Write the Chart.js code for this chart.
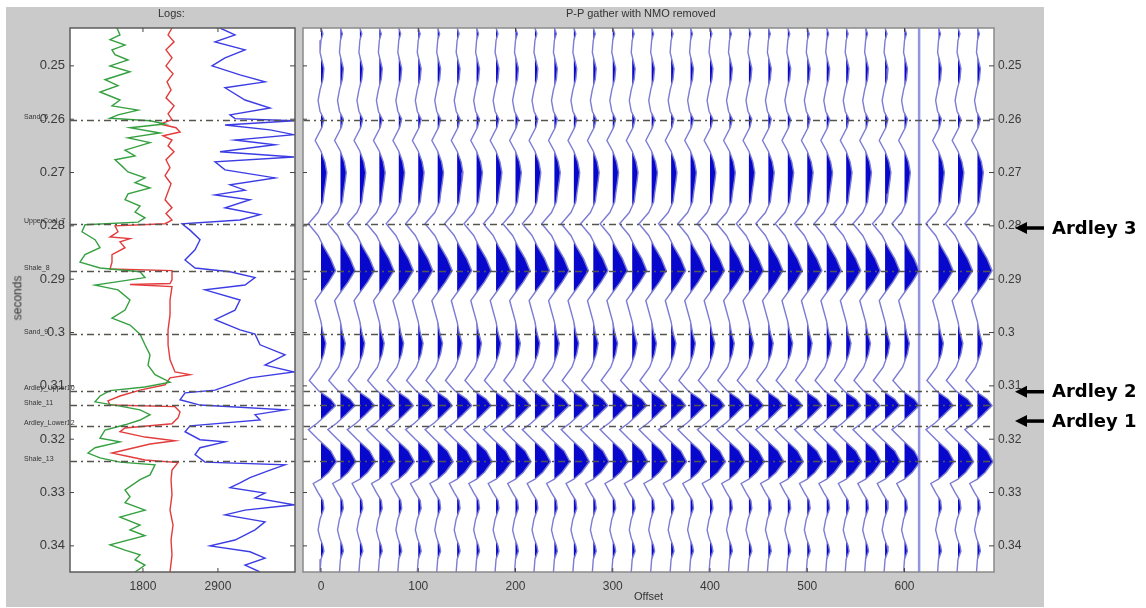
<!DOCTYPE html>
<html>
<head>
<meta charset="utf-8">
<script src="https://cdn.jsdelivr.net/npm/chart.js@4.4.0/dist/chart.umd.min.js"></script>
<style>
  html, body { margin: 0; padding: 0; background: #fff; }
  body { width: 1146px; height: 608px; position: relative; overflow: hidden; font-family: "Liberation Sans", Arial, sans-serif; }
  #figure { position: absolute; left: 6px; top: 7px; width: 1038px; height: 600px; background: #cacaca; }
  .holder { position: absolute; top: 0; }
  .lbl { position: absolute; font-size: 12px; color: #333; white-space: nowrap; }
</style>
</head>
<body>
<div id="figure"></div>
<div class="holder" style="left:0;width:300px;height:608px"><canvas id="logs" width="300" height="608"></canvas></div>
<div class="holder" style="left:300px;width:846px;height:608px"><canvas id="gather" width="846" height="608"></canvas></div>
<div class="lbl" style="left:158px;top:7px;font-size:11px">Logs:</div>
<div class="lbl" style="left:566px;top:7px;font-size:11px">P-P gather with NMO removed</div>
<div class="lbl" style="left:634px;top:590px;font-size:11px">Offset</div>
<div class="lbl" style="left:-5px;top:291px;transform:rotate(-90deg)">seconds</div>
<script>
const FONT = '"Liberation Sans", Arial, sans-serif';

// time window (seconds) and tick labels
const tMin = 0.2429, tMax = 0.3449;
const timeTicks = [0.25, 0.26, 0.27, 0.28, 0.29, 0.3, 0.31, 0.32, 0.33, 0.34];
const logTicks = [1800, 2900];
const offsetTicks = [0, 100, 200, 300, 400, 500, 600];

// horizon picks
const horizonTimes = [0.2601, 0.2796, 0.2884, 0.3003, 0.3109, 0.3136, 0.3175, 0.3241];
const horizonNames = ['Sand_6', 'UpperCoal_7', 'Shale_8', 'Sand_9', 'Ardley_Upper10', 'Shale_11', 'Ardley_Lower12', 'Shale_13'];

// Ardley callouts on the right
const ardleyNames = ['Ardley 3', 'Ardley 2', 'Ardley 1'];
const ardleyTimes = [0.2804, 0.3111, 0.3166];

// well logs: [time, value]
const greenLog = [
  [.2429,1419],[.2442,1463],[.2451,1317],[.2461,1537],[.2470,1346],[.2479,1390],[.2489,1581],[.2500,1317],
  [.2511,1610],[.2526,1243],[.2537,1434],[.2549,1170],[.2564,1463],[.2575,1346],[.2583,1728],[.2592,1434],
  [.2598,1317],[.2603,1904],[.2609,2124],[.2616,1610],[.2626,2050],[.2635,1581],[.2644,1904],[.2658,1537],
  [.2669,1684],[.2676,1390],[.2688,1493],[.2699,1581],[.2710,1830],[.2719,1684],[.2729,1904],[.2740,1581],
  [.2751,1537],[.2763,1757],[.2774,1684],[.2785,1830],[.2793,1728],[.2798,950],[.2811,906],[.2826,1097],
  [.2841,1170],[.2854,950],[.2868,877],[.2879,1170],[.2886,1757],[.2897,1830],[.2911,1097],[.2920,1434],
  [.2939,1610],[.2958,1537],[.2973,1346],[.2986,1610],[.3003,1757],[.3023,1830],[.3042,1904],[.3061,1874],
  [.3079,1977],[.3093,2197],[.3102,1830],[.3109,1317],[.3119,1170],[.3130,1097],[.3138,1463],[.3145,1757],
  [.3154,1904],[.3164,1757],[.3173,1537],[.3183,1243],[.3198,1170],[.3205,1463],[.3216,1097],[.3226,994],
  [.3235,1170],[.3243,1463],[.3248,1977],[.3267,1904],[.3276,1757],[.3295,1537],[.3308,1610],[.3319,1537],
  [.3333,1830],[.3346,1463],[.3361,1757],[.3370,1610],[.3381,1830],[.3398,1317],[.3408,1537],[.3417,1757],
  [.3426,1684],[.3436,1830],[.3449,1684]
];
const redLog = [
  [.2429,2226],[.2442,2168],[.2455,2256],[.2470,2138],[.2485,2226],[.2500,2138],[.2515,2241],[.2530,2153],
  [.2545,2212],[.2560,2138],[.2575,2256],[.2590,2168],[.2601,2226],[.2609,2050],[.2616,2285],[.2624,2344],
  [.2631,2094],[.2639,2226],[.2650,2168],[.2661,2256],[.2676,2138],[.2691,2197],[.2706,2124],[.2721,2212],
  [.2736,2168],[.2751,2124],[.2766,2226],[.2777,2138],[.2789,2226],[.2796,2124],[.2800,1390],[.2811,1434],
  [.2821,1317],[.2824,1610],[.2830,1463],[.2841,1537],[.2854,1346],[.2868,1346],[.2881,1317],[.2884,2226],
  [.2901,2226],[.2908,2197],[.2910,1610],[.2914,2226],[.2939,2197],[.2967,2197],[.2995,2168],[.3023,2168],
  [.3051,2197],[.3074,2270],[.3079,2490],[.3085,2197],[.3098,2124],[.3108,1757],[.3119,1463],[.3128,1287],
  [.3136,1317],[.3139,2270],[.3149,2344],[.3160,2314],[.3171,2226],[.3179,1537],[.3186,1463],[.3196,1830],
  [.3203,2270],[.3209,1904],[.3218,1610],[.3226,1346],[.3231,1537],[.3239,1830],[.3244,2314],[.3258,2226],
  [.3276,2212],[.3304,2226],[.3333,2197],[.3361,2241],[.3389,2212],[.3417,2226],[.3449,2197]
];
const blueLog = [
  [.2429,2930],[.2442,3150],[.2455,2857],[.2470,3297],[.2485,3004],[.2500,2813],[.2517,3224],[.2530,3590],
  [.2541,3004],[.2564,3297],[.2579,3664],[.2592,3077],[.2599,3150],[.2603,4016],[.2611,3004],[.2620,3664],
  [.2629,4016],[.2639,3150],[.2648,3737],[.2661,2930],[.2671,4016],[.2680,2857],[.2695,3004],[.2710,3737],
  [.2723,3077],[.2733,3297],[.2742,2857],[.2751,3370],[.2766,3004],[.2779,3517],[.2789,3224],[.2796,2373],
  [.2808,2490],[.2826,2637],[.2845,2564],[.2864,2417],[.2879,2564],[.2886,3077],[.2897,3444],[.2911,3297],
  [.2920,2710],[.2939,3224],[.2958,3150],[.2976,2857],[.2995,3224],[.3003,3444],[.3023,3517],[.3042,3884],
  [.3061,3590],[.3074,4016],[.3085,3370],[.3098,3077],[.3108,2857],[.3113,2417],[.3126,2344],[.3136,2637],
  [.3145,3884],[.3154,3444],[.3164,3517],[.3175,2490],[.3186,2417],[.3201,2637],[.3205,3004],[.3216,2637],
  [.3229,2564],[.3243,2710],[.3248,3884],[.3258,3664],[.3272,3370],[.3282,3224],[.3291,3077],[.3301,3590],
  [.3310,3444],[.3323,4016],[.3333,3297],[.3342,3004],[.3355,3590],[.3370,3444],[.3389,3150],[.3400,2784],
  [.3411,3370],[.3423,3590],[.3436,3297],[.3449,3517]
];

// gather: trace offsets, separator and the NMO-corrected wavelet (amplitude in offset units)
const traceOffsets = [0,20,40,60,80,100,120,140,160,180,200,220,240,260,280,300,320,340,360,380,400,
                      420,440,460,480,500,520,540,560,580,600,635,655,675];
const separatorOffset = 615;
const traceTimes = [.2429,.2440,.2452,.2475,.2490,.2505,.2525,.2545,.2565,.2585,.2600,.2615,.2640,.2660,
  .2680,.2700,.2715,.2740,.2755,.2775,.2796,.2818,.2840,.2862,.2884,.2905,.2925,.2940,.2960,.2980,.3000,
  .3020,.3040,.3065,.3090,.3110,.3125,.3137,.3155,.3170,.3182,.3200,.3222,.3242,.3262,.3275,.3283,.3300,
  .3315,.3330,.3350,.3370,.3385,.3400,.3410,.3425,.3449];
const traceAmps = [0,2,0,-1,1,3,2,-1,-3,-1,3,1,-6,0,
  4,6,5,3,2,-3,-13,-3,3,10,15,8,0,-6,-3,0,2,
  5,3,-2,-12,-2,10,15,5,-4,-13,-3,10,16,8,0,-8,-3,
  2,3,-1,-3,-1,2,3,0,-1];

const tickFont = { family: FONT, size: 12 };

const whitePanel = {
  id: 'whitePanel',
  beforeDraw(chart) {
    const { ctx, chartArea: a } = chart;
    ctx.save();
    ctx.fillStyle = '#fff';
    ctx.fillRect(a.left, a.top, a.right - a.left, a.bottom - a.top);
    ctx.restore();
  },
  afterDraw(chart) {
    const { ctx, chartArea: a, scales } = chart;
    ctx.save();
    ctx.strokeStyle = chart.canvas.id === 'logs' ? '#5c5c5c' : '#8a8a8a';
    ctx.lineWidth = 1.5;
    ctx.strokeRect(a.left, a.top, a.right - a.left, a.bottom - a.top);
    ctx.strokeStyle = '#444';
    ctx.lineWidth = 1;
    ctx.beginPath();
    scales.y.ticks.forEach(t => {
      const y = scales.y.getPixelForValue(t.value);
      ctx.moveTo(a.left, y); ctx.lineTo(a.left + 4, y);
      ctx.moveTo(a.right, y); ctx.lineTo(a.right - 5, y);
    });
    scales.x.ticks.forEach(t => {
      const x = scales.x.getPixelForValue(t.value);
      ctx.moveTo(x, a.bottom); ctx.lineTo(x, a.bottom - 4);
      ctx.moveTo(x, a.top); ctx.lineTo(x, a.top + 4);
    });
    ctx.stroke();
    ctx.restore();
  }
};

const horizonLines = {
  id: 'horizonLines',
  afterDatasetsDraw(chart) {
    const { ctx, chartArea: a, scales } = chart;
    ctx.save();
    ctx.strokeStyle = '#55554d';
    ctx.lineWidth = 1.3;
    ctx.setLineDash([7, 4, 2, 4]);
    horizonTimes.forEach(t => {
      const y = Math.round(scales.y.getPixelForValue(t)) + 0.5;
      ctx.beginPath();
      ctx.moveTo(a.left, y);
      ctx.lineTo(a.right, y);
      ctx.stroke();
    });
    ctx.setLineDash([]);
    if (chart.canvas.id === 'logs') {
      ctx.fillStyle = '#333';
      ctx.font = '7px ' + FONT;
      ctx.textBaseline = 'bottom';
      horizonTimes.forEach((t, i) => {
        ctx.fillText(horizonNames[i], 24, scales.y.getPixelForValue(t) + 1);
      });
    }
    ctx.restore();
  }
};

const wiggleFill = {
  id: 'wiggleFill',
  beforeDatasetsDraw(chart) {
    const { ctx, chartArea: a, scales } = chart;
    ctx.save();
    ctx.beginPath();
    ctx.rect(a.left, a.top, a.right - a.left, a.bottom - a.top);
    ctx.clip();
    ctx.fillStyle = '#0808cc';
    chart.data.datasets.forEach((ds, i) => {
      if (ds.baseline === undefined) return;
      const pts = chart.getDatasetMeta(i).data;
      const bx = scales.x.getPixelForValue(ds.baseline);
      ctx.beginPath();
      let inside = false;
      pts.forEach((p, j) => {
        const pos = p.x > bx + 0.01;
        if (j > 0) {
          const q = pts[j - 1];
          const qpos = q.x > bx + 0.01;
          if (pos !== qpos) {
            const f = (bx - q.x) / (p.x - q.x);
            const cy = q.y + f * (p.y - q.y);
            if (pos) { ctx.moveTo(bx, cy); inside = true; }
            else { ctx.lineTo(bx, cy); ctx.closePath(); inside = false; }
          }
        } else if (pos) { ctx.moveTo(bx, p.y); inside = true; }
        if (pos) ctx.lineTo(p.x, p.y);
      });
      if (inside) { ctx.lineTo(bx, pts[pts.length - 1].y); ctx.closePath(); }
      ctx.fill();
    });
    ctx.restore();
  }
};

const ardleyCallouts = {
  id: 'ardleyCallouts',
  afterDraw(chart) {
    const { ctx, chartArea: a, scales } = chart;
    ctx.save();
    ctx.fillStyle = '#000';
    ctx.strokeStyle = '#000';
    ctx.lineWidth = 3.5;
    ctx.font = 'bold 18px "DejaVu Sans", sans-serif';
    ctx.textBaseline = 'middle';
    ardleyTimes.forEach((t, i) => {
      const y = scales.y.getPixelForValue(t);
      const tip = a.right + 21;
      ctx.beginPath();
      ctx.moveTo(a.right + 50, y);
      ctx.lineTo(tip + 8, y);
      ctx.stroke();
      ctx.beginPath();
      ctx.moveTo(tip, y);
      ctx.lineTo(tip + 12, y - 6);
      ctx.lineTo(tip + 12, y + 6);
      ctx.closePath();
      ctx.fill();
      ctx.fillText(ardleyNames[i], a.right + 58, y + 1);
    });
    ctx.restore();
  }
};

function timeAxis(position, width, size) {
  return {
    type: 'linear', position: position, min: tMin, max: tMax, reverse: true,
    afterBuildTicks: s => { s.ticks = timeTicks.map(v => ({ value: v })); },
    afterFit: s => { s.width = width; },
    grid: { display: false, drawTicks: false },
    border: { display: false },
    ticks: { padding: position === 'left' ? 5 : 4, color: '#3a3a3a', font: { family: FONT, size: size },
             callback: v => String(v) }
  };
}

function valueAxis(min, max, tickList) {
  return {
    type: 'linear', min: min, max: max,
    afterBuildTicks: s => { s.ticks = tickList.map(v => ({ value: v })); },
    afterFit: s => { s.height = 36; },
    grid: { display: false, drawTicks: false }, border: { display: false },
    ticks: { padding: 7, color: '#3a3a3a', font: tickFont, callback: v => String(v) }
  };
}

function logLine(log, color) {
  return {
    data: log.map(([t, v]) => ({ x: v, y: t })),
    showLine: true, borderColor: color, borderWidth: 1.4, pointRadius: 0, tension: 0
  };
}

new Chart(document.getElementById('logs'), {
  type: 'scatter',
  data: { datasets: [logLine(greenLog, '#35a040'), logLine(redLog, '#e23c3c'), logLine(blueLog, '#3c3ce4')] },
  options: {
    responsive: false, animation: false,
    layout: { padding: { top: 28, right: 5, left: 0, bottom: 0 } },
    plugins: { legend: { display: false }, tooltip: { enabled: false } },
    scales: {
      x: valueAxis(730, 4030, logTicks),
      y: timeAxis('left', 70, 13)
    }
  },
  plugins: [whitePanel, horizonLines]
});

const gatherSets = traceOffsets.map(o => ({
  baseline: o,
  data: traceTimes.map((t, i) => ({ x: o + traceAmps[i], y: t })),
  showLine: true, borderColor: '#7c7cd4', borderWidth: 1.4, pointRadius: 0, tension: 0
}));
gatherSets.push({
  data: [{ x: separatorOffset, y: tMin }, { x: separatorOffset, y: tMax }],
  showLine: true, borderColor: '#9494e0', borderWidth: 2.5, pointRadius: 0
});

new Chart(document.getElementById('gather'), {
  type: 'scatter',
  data: { datasets: gatherSets },
  options: {
    responsive: false, animation: false,
    layout: { padding: { top: 28, right: 0, left: 3, bottom: 0 } },
    plugins: { legend: { display: false }, tooltip: { enabled: false } },
    scales: {
      x: valueAxis(-18.5, 692, offsetTicks),
      y: timeAxis('right', 152, 12)
    }
  },
  plugins: [whitePanel, wiggleFill, horizonLines, ardleyCallouts]
});
</script>
</body>
</html>
